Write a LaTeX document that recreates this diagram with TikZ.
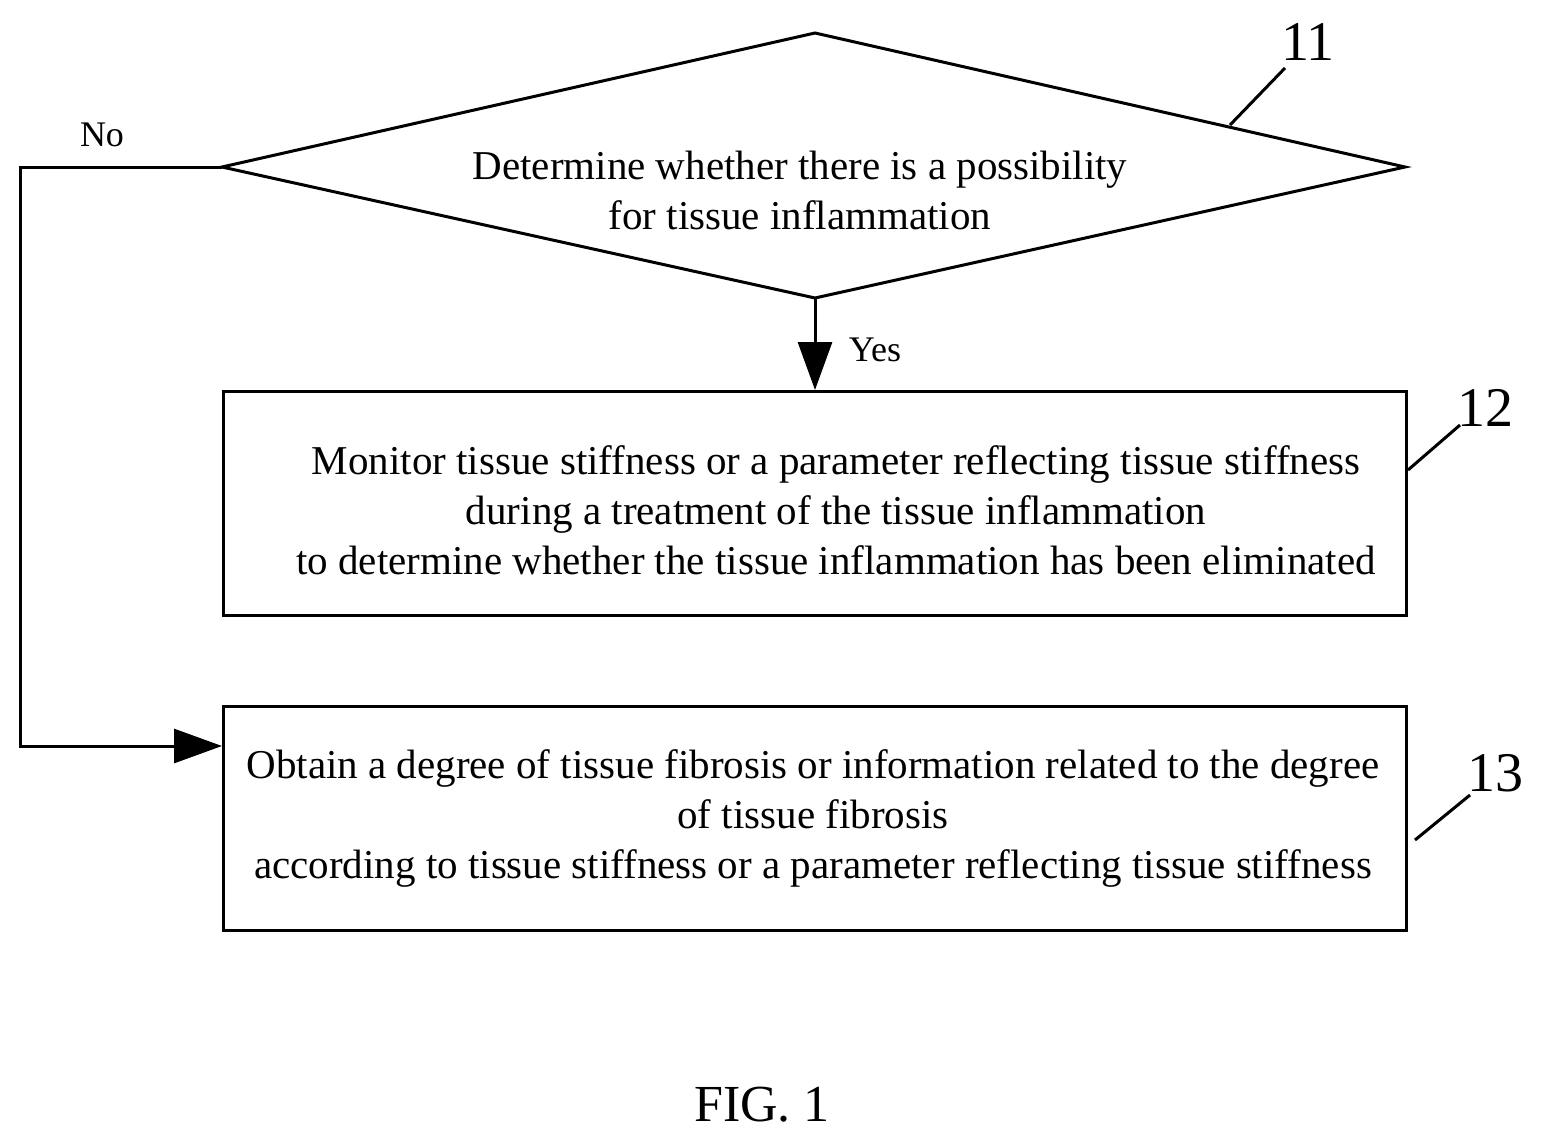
\documentclass[tikz,border=0pt]{standalone}
\usepackage{fontspec}
\setmainfont{Liberation Serif}
\usetikzlibrary{arrows.meta}
\begin{document}
\begin{tikzpicture}[x=1pt,y=-1pt,
  line/.style={line width=3pt},
  arr/.style={line width=3pt,-{Triangle[length=48pt,width=34pt]}},
  body/.style={font=\fontsize{41}{50}\selectfont,align=center},
  num/.style={font=\fontsize{56}{56}\selectfont},
  box/.style={draw,line width=3pt}]
\useasboundingbox (0,0) rectangle (1547,1145);
\coordinate (dl) at (222,167); \coordinate (dt) at (815,33);
\coordinate (dr) at (1405,167); \coordinate (db) at (815,298);
\draw[line,line join=miter] (dl)--(dt)--(dr)--(db)--cycle;
\node[body] (d) at (800,190) {Determine whether there is a possibility\\for tissue inflammation};
\node[box,minimum width=1183pt,minimum height=224pt,anchor=north west] (b12) at (222,390) {};
\node[body] at (836,510) {Monitor tissue stiffness or a parameter reflecting tissue stiffness\\during a treatment of the tissue inflammation\\to determine whether the tissue inflammation has been eliminated};
\node[box,minimum width=1183pt,minimum height=224pt,anchor=north west] (b13) at (222,705) {};
\node[body] at (813,818) {Obtain a degree of tissue fibrosis or information related to the degree\\of tissue fibrosis\\according to tissue stiffness or a parameter reflecting tissue stiffness};
\draw[arr] (db)--(b12.north -| db);
\coordinate (c1) at (20,167); \coordinate (c2) at (20,746);
\draw[arr] (dl)--(c1)--(c2)--(b13.west |- c2);
\node[font=\fontsize{36}{36}\selectfont] (no) at (102,135) {No};
\node[font=\fontsize{36}{36}\selectfont] (yes) at (875,350) {Yes};
\node[num] (n11) at (1308,42) {11};
\coordinate (a11) at (1230,125); \coordinate (e11) at (1285,68);
\draw[line] (a11)--(e11);
\node[num] (n12) at (1485,408) {12};
\coordinate (a12) at (1408,470); \coordinate (e12) at (1460,425);
\draw[line] (a12)--(e12);
\node[num] (n13) at (1495,773) {13};
\coordinate (a13) at (1415,840); \coordinate (e13) at (1470,795);
\draw[line] (a13)--(e13);
\node[font=\fontsize{52}{52}\selectfont] (fig) at (762,1105) {FIG. 1};
\end{tikzpicture}
\end{document}
